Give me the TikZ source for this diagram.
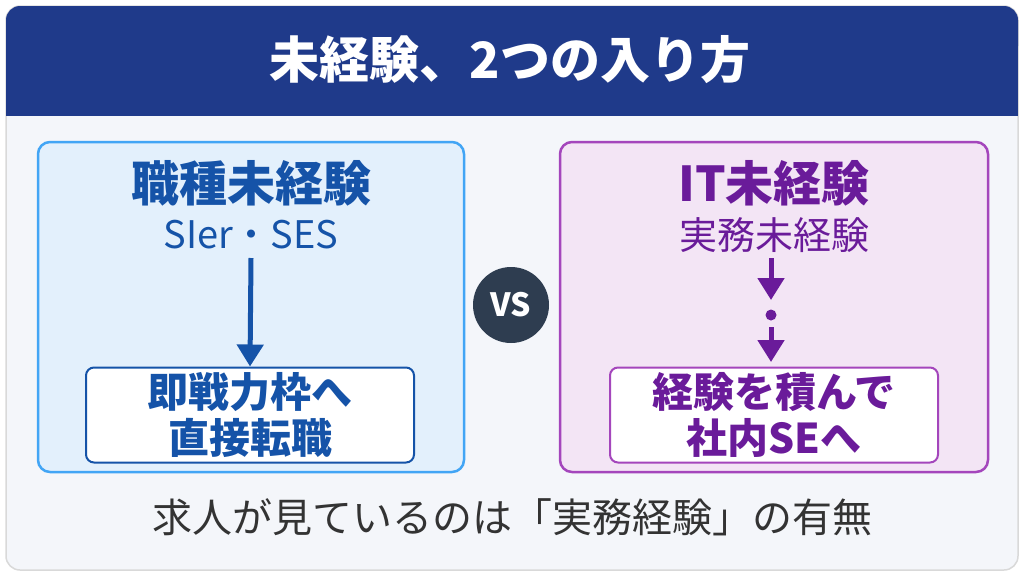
\documentclass[tikz,border=0pt]{standalone}
\usepackage{fontspec}
\setmainfont{Noto Sans CJK JP}
\usetikzlibrary{arrows.meta}
\definecolor{hdblue}{HTML}{1F3A8A}
\definecolor{pagebg}{HTML}{F4F6FA}
\definecolor{leftfill}{HTML}{E3F0FC}
\definecolor{leftline}{HTML}{42A5F5}
\definecolor{leftdark}{HTML}{1553A8}
\definecolor{rightfill}{HTML}{F3E5F5}
\definecolor{rightline}{HTML}{A446BC}
\definecolor{rightdark}{HTML}{6A1B9A}
\definecolor{vsfill}{HTML}{2E3D50}
\tikzset{
  panel/.style={rounded corners=12pt, line width=2.5pt},
  inner/.style={draw, fill=white, rounded corners=8pt, line width=2pt, minimum width=328pt, minimum height=95pt, align=center, font=\fontsize{41}{46}\selectfont\bfseries},
  head/.style={font=\fontsize{48}{54}\selectfont\bfseries},
  sub/.style={font=\fontsize{38}{44}\selectfont},
  flow/.style={line width=5pt, -{Triangle[length=22pt,width=26pt]}},
}
\begin{document}
\begin{tikzpicture}[x=1pt,y=-1pt]
  \useasboundingbox (0,0) rectangle (1024,576);
  % page and header
  \draw[fill=pagebg, draw=gray!30, line width=1.5pt, rounded corners=14pt] (6,6) rectangle (1018,570);
  \fill[hdblue, rounded corners=14pt] (6,6) rectangle (1018,60);
  \fill[hdblue] (6,40) rectangle (1018,116);
  \node[text=white, font=\fontsize{50}{56}\selectfont\bfseries] (title) at (510,60) {未経験、2つの入り方};

  % left panel
  \draw[panel, fill=leftfill, draw=leftline] (38,142) rectangle (464,472);
  \node[head, text=leftdark] (ltitle) at (251,183) {職種未経験};
  \node[sub, text=leftdark] (lsub) at (251,235) {SIer・SES};
  \node[inner, draw=leftdark, text=leftdark] (lres) at (250,415) {即戦力枠へ\\直接転職};
  \coordinate (lstart) at (251,258);
  \draw[flow, leftdark] (lstart) -- (lres.north);

  % right panel
  \draw[panel, fill=rightfill, draw=rightline] (560,142) rectangle (988,472);
  \node[head, text=rightdark] (rtitle) at (774,183) {IT未経験};
  \node[sub, text=rightdark] (rsub) at (774,235) {実務未経験};
  \node[inner, draw=rightline, text=rightdark] (rres) at (774,415) {経験を積んで\\社内SEへ};
  \coordinate (rstart) at (771,258);
  \coordinate (rmid) at (771,300);
  \fill[rightdark] (771,315) circle (5.5pt) coordinate (rdot);
  \coordinate (rstart2) at (771,327);
  \coordinate (rend2) at (771,362);
  \draw[flow, rightdark] (rstart) -- (rmid);
  \draw[flow, rightdark] (rstart2) -- (rend2);

  % vs
  \node[circle, fill=vsfill, minimum size=76pt, text=white, font=\fontsize{32}{36}\selectfont\bfseries] (vs) at (511,305) {VS};

  % footer
  \node[text=black!80, font=\fontsize{40}{46}\selectfont] (note) at (512,517) {求人が見ているのは「実務経験」の有無};
\end{tikzpicture}
\end{document}
